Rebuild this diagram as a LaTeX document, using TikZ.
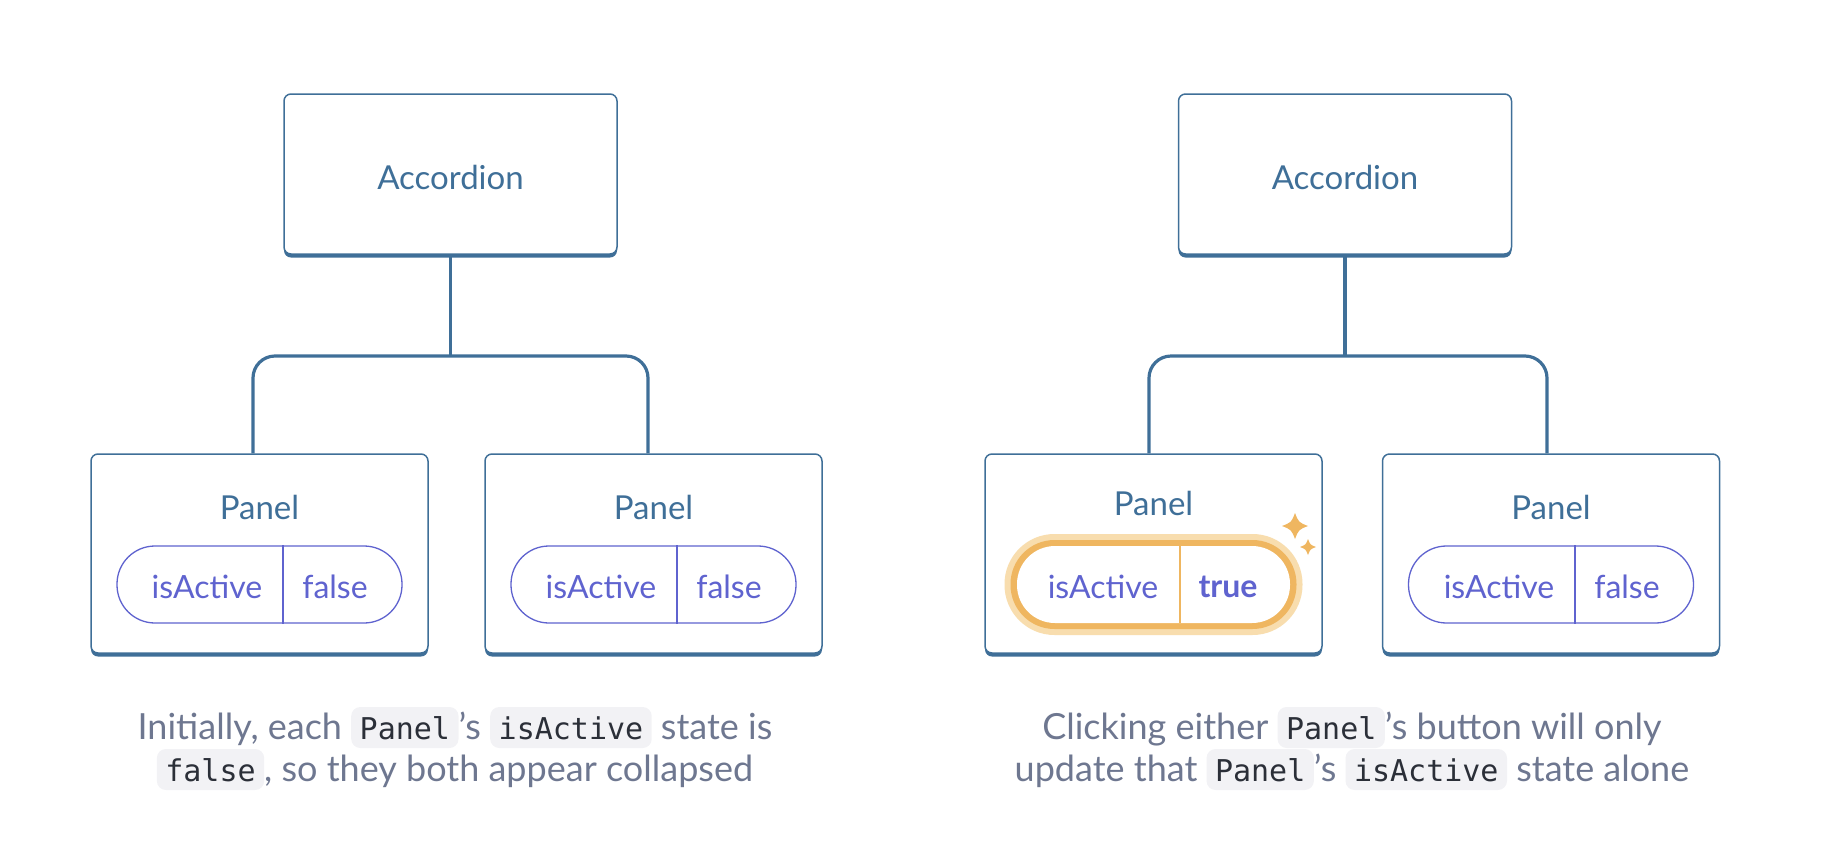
\documentclass[tikz,border=0pt]{standalone}
\usepackage{fontspec}
\setmainfont{Lato}
\setmonofont{DejaVu Sans Mono}
\usetikzlibrary{shadows,calc}
\definecolor{nb}{HTML}{3F6F98}
\definecolor{pp}{HTML}{5F63CF}
\definecolor{orng}{HTML}{EFB660}
\definecolor{glow}{HTML}{F8DDAE}
\definecolor{capgray}{HTML}{6E7790}
\definecolor{codebg}{HTML}{F2F2F5}
\definecolor{codefg}{HTML}{2B2F38}
\newcommand\cb[1]{\tikz[baseline=(cbx.base)]\node[cbs](cbx){#1};}
\newcommand\sparkle[3]{%
  \fill[orng] (#1,#2-#3) .. controls (#1+0.28*#3,#2-0.28*#3) .. (#1+#3,#2)
    .. controls (#1+0.28*#3,#2+0.28*#3) .. (#1,#2+#3)
    .. controls (#1-0.28*#3,#2+0.28*#3) .. (#1-#3,#2)
    .. controls (#1-0.28*#3,#2-0.28*#3) .. cycle;}
\tikzset{
  box/.style={draw=nb, line width=1.5pt, rounded corners=7pt, fill=white,
    drop shadow={shadow xshift=0pt, shadow yshift=-3.5pt, fill=nb, opacity=1},
    text=nb},
  accbox/.style={box, minimum width=333pt, minimum height=160pt},
  panelbox/.style={box, minimum width=337pt, minimum height=199pt},
  pill/.style={draw=pp, line width=1.3pt, rounded corners=38pt, minimum width=285pt, minimum height=77pt},
  ptxt/.style={text=pp, font=\fontsize{32}{38}\selectfont, inner sep=0pt},
  lbl/.style={text=nb, font=\fontsize{33}{38}\selectfont, inner sep=0pt},
  conn/.style={draw=nb, line width=3.2pt, rounded corners=22pt},
  captxt/.style={text=capgray, font=\fontsize{36}{42}\selectfont, inner sep=0pt, anchor=base},
  cbs/.style={fill=codebg, rounded corners=9pt, inner xsep=8.5pt, inner ysep=0pt,
    text height=32pt, text depth=9pt, text=codefg, font=\fontsize{30}{36}\selectfont\ttfamily},
}
\begin{document}
\begin{tikzpicture}[x=1pt,y=-1pt]
\useasboundingbox (0,0) rectangle (1840,860);
% ---------- left ----------
\node[accbox] (accL) at (450.5,174) {};
\node[lbl] (accLt) at (450.5,177) {Accordion};
\node[panelbox] (pL1) at (259.5,553.5) {};
\node[panelbox] (pL2) at (653.5,553.5) {};
\coordinate (jL) at (450.5,356);
\draw[conn] (accL.south) -- (jL);
\draw[conn] ($(pL1.north)+(-6.5,0)$) |- (jL) -| ($(pL2.north)+(-5.5,0)$);
\node[lbl] (pL1t) at (259.5,507) {Panel};
\node[lbl] (pL2t) at (653.5,507) {Panel};
\node[pill] (sL1) at (259.5,584.5) {};
\draw[pp, line width=1.3pt] (sL1.north -| 283,0) -- (sL1.south -| 283,0);
\node[ptxt] (sL1a) at (207,587) {isActive};
\node[ptxt] (sL1b) at (335,587) {false};
\node[pill] (sL2) at (653.5,584.5) {};
\draw[pp, line width=1.3pt] (sL2.north -| 677,0) -- (sL2.south -| 677,0);
\node[ptxt] (sL2a) at (601,587) {isActive};
\node[ptxt] (sL2b) at (729,587) {false};
% captions left
\node[captxt] (cL1) at (455,739) {Initially, each \cb{Panel}’s \cb{isActive} state is};
\node[captxt] (cL2) at (455,781) {\cb{false}, so they both appear collapsed};
% ---------- right ----------
\node[accbox] (accR) at (1345,174) {};
\node[lbl] (accRt) at (1345,177) {Accordion};
\node[panelbox] (pR1) at (1153.5,553.5) {};
\node[panelbox] (pR2) at (1551,553.5) {};
\coordinate (jR) at (1345,356);
\draw[conn] (accR.south) -- (jR);
\draw[conn] ($(pR1.north)+(-4.5,0)$) |- (jR) -| ($(pR2.north)+(-4,0)$);
\node[lbl] (pR1t) at (1153.5,503) {Panel};
\node[lbl] (pR2t) at (1551,507) {Panel};
% highlighted pill
\node[fill=glow, rounded corners=50pt, minimum width=298pt, minimum height=101pt] (gR1) at (1153.5,584.5) {};
\node[fill=orng, rounded corners=44pt, minimum width=286pt, minimum height=89pt] (oR1) at (1153.5,584.5) {};
\node[fill=white, rounded corners=38pt, minimum width=273pt, minimum height=77pt] (sR1) at (1153.5,584.5) {};
\draw[orng, line width=1.3pt] (sR1.north -| 1180,0) -- (sR1.south -| 1180,0);
\node[ptxt] (sR1a) at (1103,587) {isActive};
\node[ptxt, font=\fontsize{32}{38}\selectfont\bfseries] (sR1b) at (1228,587) {true};
\sparkle{1295}{526}{13}
\sparkle{1308}{547}{8}
\node[pill] (sR2) at (1551,584.5) {};
\draw[pp, line width=1.3pt] (sR2.north -| 1575,0) -- (sR2.south -| 1575,0);
\node[ptxt] (sR2a) at (1499,587) {isActive};
\node[ptxt] (sR2b) at (1627,587) {false};
% captions right
\node[captxt] (cR1) at (1352,739) {Clicking either \cb{Panel}’s button will only};
\node[captxt] (cR2) at (1352,781) {update that \cb{Panel}’s \cb{isActive} state alone};
\end{tikzpicture}
\end{document}
